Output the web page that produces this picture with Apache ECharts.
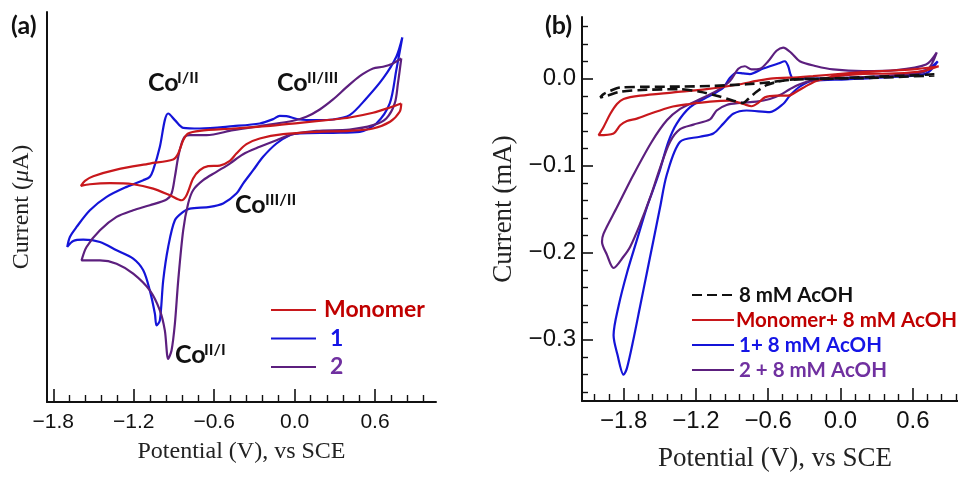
<!DOCTYPE html>
<html><head><meta charset="utf-8">
<script src="https://cdn.jsdelivr.net/npm/echarts@6/dist/echarts.min.js"></script>
<style>html,body{margin:0;padding:0;background:#fff}#c{width:958px;height:477px}</style>
</head><body><div id="c"></div>
<script>
// ---------- Panel (a): potential (V vs SCE), current (arbitrary µA) ----------
const monomerA = [[0.796,5.33],[0.712,4.53],[0.585,3.47],[0.411,2.53],[0.287,2.13],[0.039,1.47],[-0.210,0.80],[-0.458,0.33],[-0.707,-0.13],[-0.794,-0.67],[-0.831,-2.0],[-0.868,-4.67],[-0.906,-5.87],[-1.080,-6.67],[-1.328,-7.87],[-1.502,-9.2],[-1.564,-10.13],[-1.594,-11.13],[-1.527,-10.8],[-1.378,-10.6],[-1.204,-10.8],[-1.055,-11.67],[-0.930,-13.0],[-0.843,-14.0],[-0.806,-13.0],[-0.757,-9.67],[-0.707,-8.0],[-0.645,-7.2],[-0.558,-7.07],[-0.483,-6.13],[-0.434,-4.67],[-0.359,-2.8],[-0.260,-1.67],[-0.086,-0.8],[0.163,-0.33],[0.411,-0.13],[0.585,0.33],[0.712,1.67],[0.784,3.67],[0.796,5.33]];
const oneA = [[0.804,18.53],[0.759,14.67],[0.660,10.33],[0.535,6.33],[0.411,3.0],[0.287,2.13],[0.163,2.0],[0.039,2.13],[-0.061,2.8],[-0.111,2.87],[-0.160,2.2],[-0.260,1.33],[-0.458,0.80],[-0.707,0.33],[-0.831,0.47],[-0.893,2.0],[-0.943,3.33],[-0.968,2.0],[-1.005,-3.33],[-1.055,-8.0],[-1.080,-9.33],[-1.129,-10.0],[-1.253,-11.33],[-1.402,-13.33],[-1.527,-16.0],[-1.626,-19.33],[-1.676,-21.33],[-1.696,-23.33],[-1.651,-22.13],[-1.577,-21.87],[-1.452,-22.33],[-1.328,-24.0],[-1.204,-25.67],[-1.129,-28.0],[-1.080,-32.0],[-1.042,-36.67],[-1.030,-39.0],[-1.005,-38.0],[-0.980,-30.0],[-0.943,-23.33],[-0.893,-18.0],[-0.831,-16.33],[-0.781,-15.67],[-0.632,-15.33],[-0.533,-14.67],[-0.434,-12.67],[-0.384,-10.67],[-0.309,-8.0],[-0.235,-5.33],[-0.135,-2.67],[-0.036,-1.0],[0.039,-0.67],[0.287,-0.53],[0.486,-0.33],[0.610,1.33],[0.710,5.33],[0.759,12.0],[0.804,18.53]];
const twoA = [[0.796,14.33],[0.734,13.33],[0.660,12.67],[0.585,12.33],[0.486,10.8],[0.386,8.53],[0.287,6.13],[0.188,4.13],[0.088,2.67],[-0.011,1.87],[-0.210,1.0],[-0.458,0],[-0.657,-1.0],[-0.781,-1.0],[-0.819,-1.33],[-0.843,-2.67],[-0.868,-5.33],[-0.893,-9.33],[-0.918,-12.67],[-0.955,-13.87],[-1.080,-15.0],[-1.204,-16.0],[-1.328,-17.33],[-1.452,-20.0],[-1.552,-23.33],[-1.589,-26.0],[-1.452,-26.0],[-1.328,-26.67],[-1.204,-28.67],[-1.080,-32.0],[-1.005,-36.0],[-0.968,-40.0],[-0.943,-45.67],[-0.918,-44.0],[-0.893,-38.67],[-0.868,-30.0],[-0.831,-20.0],[-0.794,-14.67],[-0.757,-12.0],[-0.682,-10.0],[-0.583,-8.33],[-0.483,-6.67],[-0.384,-4.8],[-0.260,-3.33],[-0.135,-2.0],[-0.011,-0.8],[0.163,-0.13],[0.411,0.13],[0.585,1.0],[0.684,2.33],[0.747,5.33],[0.771,9.33],[0.796,14.33]];

// ---------- Panel (b): potential (V vs SCE), current (mA) ----------
const acidB = [[0.779,0.0049],[0.324,0.0023],[-0.062,0.0004],[-0.393,-0.0008],[-0.559,-0.0038],[-0.779,-0.0064],[-1.055,-0.0083],[-1.331,-0.0091],[-1.607,-0.0094],[-1.828,-0.0102],[-1.910,-0.0140],[-1.966,-0.0177],[-1.993,-0.0215],[-1.938,-0.0196],[-1.828,-0.0151],[-1.607,-0.0128],[-1.331,-0.0121],[-1.166,-0.0151],[-1.028,-0.0196],[-0.890,-0.0253],[-0.807,-0.0279],[-0.766,-0.0234],[-0.697,-0.0151],[-0.614,-0.0075],[-0.503,-0.0030],[-0.393,-0.0011],[-0.062,0],[0.324,0.0011],[0.779,0.0038]];
const monomerB = [[0.815,0.0143],[0.600,0.0106],[0.324,0.0087],[0.048,0.0060],[-0.228,0.0030],[-0.421,0.0011],[-0.559,0.0004],[-0.697,-0.0026],[-0.834,-0.0064],[-1.110,-0.0121],[-1.386,-0.0158],[-1.662,-0.0196],[-1.800,-0.0234],[-1.855,-0.0291],[-1.910,-0.0404],[-1.966,-0.0555],[-2.007,-0.0649],[-1.883,-0.0630],[-1.828,-0.0536],[-1.772,-0.0487],[-1.690,-0.0460],[-1.579,-0.0404],[-1.414,-0.0328],[-1.248,-0.0291],[-1.083,-0.0264],[-0.917,-0.0253],[-0.807,-0.0291],[-0.738,-0.0317],[-0.683,-0.0279],[-0.628,-0.0215],[-0.531,-0.0196],[-0.434,-0.0196],[-0.366,-0.0151],[-0.283,-0.0083],[-0.200,-0.0026],[-0.062,0.0023],[0.159,0.0053],[0.462,0.0060],[0.683,0.0087],[0.815,0.0143]];
const oneB = [[0.807,0.0200],[0.710,0.0098],[0.462,0.0038],[0.048,0.0008],[-0.228,0],[-0.393,0],[-0.415,0.0049],[-0.434,0.0143],[-0.462,0.0200],[-0.517,0.0174],[-0.641,0.0117],[-0.752,0.0053],[-0.807,0.0060],[-0.862,0.0068],[-0.917,0.0011],[-0.972,-0.0102],[-1.110,-0.0215],[-1.248,-0.0328],[-1.359,-0.0517],[-1.428,-0.0725],[-1.510,-0.1102],[-1.607,-0.1479],[-1.690,-0.1857],[-1.772,-0.2234],[-1.841,-0.2611],[-1.883,-0.2951],[-1.850,-0.3177],[-1.800,-0.3404],[-1.772,-0.3328],[-1.717,-0.2989],[-1.662,-0.2611],[-1.607,-0.2234],[-1.552,-0.1857],[-1.497,-0.1479],[-1.441,-0.1102],[-1.331,-0.0725],[-1.166,-0.0668],[-1.055,-0.0630],[-0.972,-0.0517],[-0.890,-0.0404],[-0.779,-0.0366],[-0.586,-0.0385],[-0.476,-0.0291],[-0.421,-0.0196],[-0.338,-0.0091],[-0.228,-0.0023],[0.048,-0.0008],[0.462,0.0023],[0.710,0.0060],[0.807,0.0200]];
const twoB = [[0.799,0.0302],[0.710,0.0162],[0.462,0.0098],[0.186,0.0087],[-0.062,0.0106],[-0.200,0.0143],[-0.338,0.0200],[-0.407,0.0294],[-0.476,0.0358],[-0.531,0.0321],[-0.600,0.0200],[-0.669,0.0113],[-0.738,0.0106],[-0.793,0.0143],[-0.848,0.0113],[-0.917,-0.0026],[-1.028,-0.0140],[-1.193,-0.0253],[-1.331,-0.0347],[-1.441,-0.0479],[-1.566,-0.0725],[-1.717,-0.1102],[-1.855,-0.1479],[-1.966,-0.1781],[-1.979,-0.1875],[-1.938,-0.2026],[-1.883,-0.2177],[-1.800,-0.2045],[-1.745,-0.1932],[-1.662,-0.1668],[-1.579,-0.1366],[-1.497,-0.1026],[-1.414,-0.0725],[-1.331,-0.0581],[-1.221,-0.0528],[-1.083,-0.0468],[-1.028,-0.0366],[-0.945,-0.0302],[-0.834,-0.0279],[-0.697,-0.0264],[-0.586,-0.0234],[-0.503,-0.0189],[-0.421,-0.0121],[-0.338,-0.0064],[-0.228,-0.0019],[0.048,0.0008],[0.462,0.0038],[0.710,0.0087],[0.799,0.0302]];

// ---------- ticks ----------
const xMajorA = [-1.8,-1.2,-0.6,0,0.6];
const xMinorA = [-1.68,-1.56,-1.44,-1.32,-1.08,-0.96,-0.84,-0.72,-0.48,-0.36,-0.24,-0.12,0.12,0.24,0.36,0.48,0.72,0.84,0.96];
const xMajorB = [-1.8,-1.2,-0.6,0,0.6];
const xMinorB = [-2.04,-1.92,-1.68,-1.56,-1.44,-1.32,-1.08,-0.96,-0.84,-0.72,-0.48,-0.36,-0.24,-0.12,0.12,0.24,0.36,0.48,0.72,0.84,0.96];
const yMajorB = [0,-0.1,-0.2,-0.3];
const yMinorB = [0.06,0.04,0.02,-0.02,-0.04,-0.06,-0.08,-0.12,-0.14,-0.16,-0.18,-0.22,-0.24,-0.26,-0.28,-0.32,-0.34,-0.36];

const C_RED='#c8181c', C_BLUE='#1414d8', C_PUR='#5c1f7e';
const fmt = v => (v < -1e-9 ? '\u2212' : '') + Math.abs(v).toFixed(1);
const AX='#111';
const BF='Lato';
const tickLbl = (fs, m) => ({formatter:fmt, fontFamily:'Liberation Sans', fontSize:fs, color:AX, margin:m});

const chart = echarts.init(document.getElementById('c'), null, {renderer:'canvas'});
const line = (name, data, xi, yi, color, extra) => Object.assign({
  name, type:'line', data, xAxisIndex:xi, yAxisIndex:yi, symbol:'none', showSymbol:false,
  smooth:0.3, lineStyle:{color, width:2.2}, itemStyle:{color}, z:2
}, extra||{});
const txt = (x, y, text, size) => ({type:'text', x, y, style:{text, font:'bold '+size+'px '+BF, fill:'#111', verticalAlign:'middle'}});

chart.setOption({
  animation:false,
  grid:[{left:47,top:12,width:389,height:390},{left:582,top:17,width:376,height:390}],
  xAxis:[
    {gridIndex:0,type:'value',min:-1.847,max:1.055,
     axisLine:{onZero:false,lineStyle:{color:AX,width:2}},
     axisTick:{inside:true,length:13,customValues:xMajorA,lineStyle:{color:AX,width:1.6}},
     axisLabel:Object.assign({customValues:xMajorA},tickLbl(21,10)),
     splitLine:{show:false},
     name:'Potential (V), vs SCE',nameLocation:'middle',nameGap:38,
     nameTextStyle:{fontFamily:'Liberation Serif',fontSize:24,color:'#222'}},
    {gridIndex:0,type:'value',min:-1.847,max:1.055,position:'bottom',
     axisLine:{show:false,onZero:false},axisTick:{inside:true,length:7,customValues:xMinorA,lineStyle:{color:AX,width:1.4}},
     axisLabel:{show:false},splitLine:{show:false}},
    {gridIndex:1,type:'value',min:-2.145,max:0.975,
     axisLine:{onZero:false,lineStyle:{color:AX,width:2}},
     axisTick:{inside:true,length:13,customValues:xMajorB,lineStyle:{color:AX,width:1.6}},
     axisLabel:Object.assign({customValues:xMajorB},tickLbl(24,8)),
     splitLine:{show:false},
     name:'Potential (V), vs SCE',nameLocation:'middle',nameGap:44,
     nameTextStyle:{fontFamily:'Liberation Serif',fontSize:27,color:'#222',padding:[0,0,0,10]}},
    {gridIndex:1,type:'value',min:-2.145,max:0.975,position:'bottom',
     axisLine:{show:false,onZero:false},axisTick:{inside:true,length:7,customValues:xMinorB,lineStyle:{color:AX,width:1.4}},
     axisLabel:{show:false},splitLine:{show:false}}
  ],
  yAxis:[
    {gridIndex:0,type:'value',min:-54.3,max:23.6,
     axisLine:{show:true,onZero:false,lineStyle:{color:AX,width:2}},
     axisTick:{show:false},axisLabel:{show:false},splitLine:{show:false},
     name:'Current ({i|\u03bc}A)',nameLocation:'middle',nameGap:13,
     nameTextStyle:{fontFamily:'Liberation Serif',fontSize:24,color:'#222',
       rich:{i:{fontFamily:'Liberation Serif',fontStyle:'italic',fontSize:24,color:'#222'}}}},
    {gridIndex:1,type:'value',min:-0.3706,max:0.0709,
     axisLine:{show:true,onZero:false,lineStyle:{color:AX,width:2}},
     axisTick:{inside:true,length:11,customValues:yMajorB,lineStyle:{color:AX,width:1.6}},
     axisLabel:Object.assign({customValues:yMajorB},tickLbl(24,6)),
     splitLine:{show:false},
     name:'Current (mA)',nameLocation:'middle',nameGap:65,
     nameTextStyle:{fontFamily:'Liberation Serif',fontSize:27,color:'#222'}},
    {gridIndex:1,type:'value',min:-0.3706,max:0.0709,position:'left',
     axisLine:{show:false,onZero:false},axisTick:{inside:true,length:6,customValues:yMinorB,lineStyle:{color:AX,width:1.4}},
     axisLabel:{show:false},splitLine:{show:false}}
  ],
  legend:[
    {orient:'vertical',left:265,top:292,itemWidth:45,itemHeight:14,itemGap:2.5,selectedMode:false,
     itemStyle:{opacity:0},
     textStyle:{fontFamily:BF,fontWeight:'bold',fontSize:23,lineHeight:26,padding:[0,0,0,3]},
     data:[{name:'Monomer',textStyle:{color:'#c00000'}},{name:'1',textStyle:{color:'#1515e6',padding:[0,0,0,9]}},{name:'2',textStyle:{color:'#7030a0',padding:[0,0,0,9]}}]},
    {orient:'vertical',left:686,top:278,itemWidth:42,itemHeight:14,itemGap:1,selectedMode:false,
     itemStyle:{opacity:0},
     textStyle:{fontFamily:BF,fontWeight:'bold',fontSize:20.5,lineHeight:24},
     data:[{name:'8 mM AcOH',textStyle:{color:'#111'}},{name:'Monomer+ 8 mM AcOH',textStyle:{color:'#c00000',padding:[0,0,0,-3]}},
           {name:'1+ 8 mM AcOH',textStyle:{color:'#1515e6'}},{name:'2 + 8 mM AcOH',textStyle:{color:'#7030a0'}}]}
  ],
  graphic:[
    txt(11,26,'(a)',25), txt(545,26,'(b)',25),
    txt(148,83,'Co',25), txt(177,78,'I/II',16),
    txt(277,83,'Co',25), txt(307,78,'II/III',16),
    txt(235,205,'Co',25), txt(265,200,'III/II',16),
    txt(175,355,'Co',25), txt(204,350,'II/I',16)
  ],
  series:[
    line('1', oneA, 0, 0, C_BLUE),
    line('2', twoA, 0, 0, C_PUR),
    line('Monomer', monomerA, 0, 0, C_RED),
    line('1+ 8 mM AcOH', oneB, 2, 1, C_BLUE),
    line('2 + 8 mM AcOH', twoB, 2, 1, C_PUR),
    line('Monomer+ 8 mM AcOH', monomerB, 2, 1, C_RED),
    line('8 mM AcOH', acidB, 2, 1, '#111', {lineStyle:{color:'#111',width:2.6,type:[10,5]}})
  ]
});
</script></body></html>
